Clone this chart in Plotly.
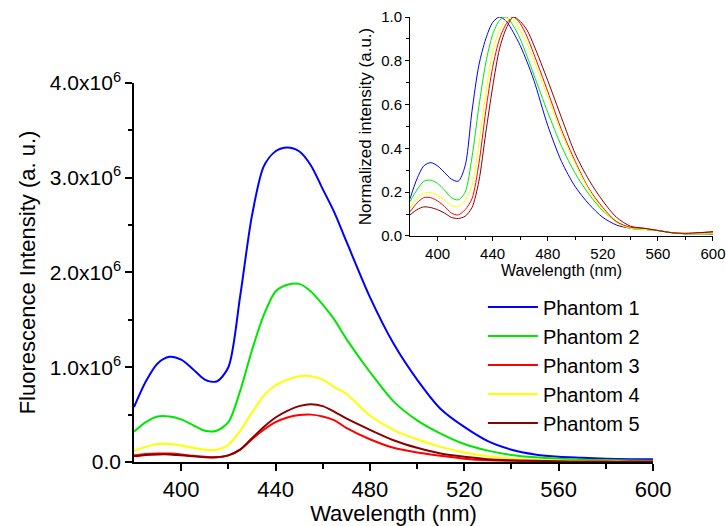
import plotly.graph_objects as go

# Emission wavelengths (nm)
wavelength = [380, 385, 390, 395, 400, 405, 410, 415, 420, 425, 430, 435, 440, 445,
              450, 455, 460, 465, 470, 480, 490, 500, 510, 520, 530, 540, 550, 560,
              570, 580, 590, 600]

# Fluorescence intensity, units of 1e6 a.u.
phantom1 = [0.58, 0.85, 1.04, 1.11, 1.08, 0.98, 0.87, 0.85, 1.00, 1.75, 2.60, 3.12, 3.28, 3.32,
            3.28, 3.13, 2.88, 2.63, 2.33, 1.74, 1.25, 0.87, 0.56, 0.37, 0.22, 0.13, 0.08, 0.055,
            0.045, 0.035, 0.03, 0.03]
phantom2 = [0.32, 0.42, 0.48, 0.48, 0.45, 0.39, 0.33, 0.33, 0.42, 0.75, 1.18, 1.55, 1.80, 1.87,
            1.88, 1.80, 1.66, 1.50, 1.30, 0.95, 0.64, 0.44, 0.30, 0.19, 0.12, 0.075, 0.05, 0.035,
            0.025, 0.02, 0.015, 0.012]
phantom3 = [0.07, 0.085, 0.09, 0.09, 0.08, 0.065, 0.055, 0.05, 0.07, 0.13, 0.24, 0.34, 0.42, 0.47,
            0.495, 0.50, 0.48, 0.44, 0.36, 0.24, 0.15, 0.10, 0.065, 0.035, 0.018, 0.012, 0.008, 0.006,
            0.004, 0.003, 0.003, 0.003]
phantom4 = [0.12, 0.16, 0.19, 0.19, 0.175, 0.15, 0.13, 0.13, 0.18, 0.33, 0.52, 0.70, 0.81, 0.87,
            0.905, 0.905, 0.87, 0.79, 0.72, 0.49, 0.34, 0.24, 0.16, 0.10, 0.06, 0.035, 0.02, 0.015,
            0.01, 0.008, 0.006, 0.005]
phantom5 = [0.06, 0.075, 0.08, 0.08, 0.07, 0.06, 0.05, 0.05, 0.07, 0.13, 0.25, 0.37, 0.47, 0.54,
            0.59, 0.61, 0.59, 0.53, 0.46, 0.34, 0.23, 0.15, 0.09, 0.055, 0.03, 0.018, 0.012, 0.008,
            0.005, 0.004, 0.004, 0.004]

# Normalized spectra (inset)
norm1 = [0.17, 0.26, 0.32, 0.335, 0.32, 0.29, 0.26, 0.25, 0.32, 0.57, 0.78, 0.90, 0.975, 1.0,
         0.98, 0.93, 0.87, 0.795, 0.71, 0.505, 0.34, 0.225, 0.145, 0.085, 0.05, 0.035, 0.03, 0.025,
         0.015, 0.01, 0.01, 0.008]
norm2 = [0.157, 0.21, 0.25, 0.255, 0.24, 0.21, 0.175, 0.165, 0.20, 0.36, 0.59, 0.79, 0.92, 0.985,
         1.0, 0.96, 0.90, 0.82, 0.735, 0.565, 0.41, 0.285, 0.19, 0.115, 0.065, 0.035, 0.03, 0.025,
         0.015, 0.01, 0.01, 0.01]
norm3 = [0.11, 0.15, 0.175, 0.175, 0.16, 0.135, 0.105, 0.096, 0.12, 0.17, 0.33, 0.57, 0.77, 0.90,
         0.97, 1.0, 0.97, 0.91, 0.83, 0.66, 0.485, 0.34, 0.215, 0.13, 0.065, 0.04, 0.035, 0.025,
         0.015, 0.012, 0.015, 0.018]
norm4 = [0.126, 0.17, 0.195, 0.198, 0.185, 0.165, 0.14, 0.134, 0.16, 0.23, 0.42, 0.65, 0.84, 0.94,
         0.99, 0.99, 0.94, 0.88, 0.80, 0.635, 0.47, 0.33, 0.21, 0.12, 0.06, 0.035, 0.03, 0.025,
         0.015, 0.012, 0.01, 0.01]
norm5 = [0.096, 0.12, 0.133, 0.13, 0.12, 0.105, 0.085, 0.08, 0.09, 0.13, 0.25, 0.47, 0.68, 0.855,
         0.95, 1.0, 0.98, 0.94, 0.87, 0.71, 0.54, 0.375, 0.255, 0.16, 0.085, 0.045, 0.035, 0.025,
         0.015, 0.012, 0.015, 0.02]

names = ["Phantom 1", "Phantom 2", "Phantom 3", "Phantom 4", "Phantom 5"]
colors = ["#0000FF", "#00E600", "#FF0000", "#FFFF00", "#8B0000"]
intensity = [phantom1, phantom2, phantom3, phantom4, phantom5]
normalized = [norm1, norm2, norm3, norm4, norm5]

y_ticks = [0, 1, 2, 3, 4]
y_ticktext = ["0.0", "1.0x10<sup>6</sup>", "2.0x10<sup>6</sup>", "3.0x10<sup>6</sup>", "4.0x10<sup>6</sup>"]
x_ticks = [400, 440, 480, 520, 560, 600]
x_minor = [420, 460, 500, 540, 580]
inset_y_ticks = [0.0, 0.2, 0.4, 0.6, 0.8, 1.0]
inset_y_minor = [0.1, 0.3, 0.5, 0.7, 0.9]

FONT = "Arial, Liberation Sans, sans-serif"

fig = go.Figure()

for name, col, vals in zip(names, colors, intensity):
    fig.add_trace(go.Scatter(
        x=wavelength, y=[v * 1e6 for v in vals], name=name, mode="lines",
        line=dict(color=col, width=2, shape="spline", smoothing=0.8),
        xaxis="x", yaxis="y"))

for name, col, vals in zip(names, colors, normalized):
    fig.add_trace(go.Scatter(
        x=wavelength, y=vals, name=name, mode="lines", showlegend=False,
        line=dict(color=col, width=1, shape="spline", smoothing=0.8),
        xaxis="x2", yaxis="y2"))

axis_common = dict(showline=True, linecolor="black", showgrid=False, zeroline=False,
                   ticks="outside", tickcolor="black", mirror=False, automargin=False)

fig.update_layout(
    template="none",
    width=726, height=526,
    margin=dict(l=134, r=13, t=17, b=64),
    paper_bgcolor="white", plot_bgcolor="rgba(0,0,0,0)",
    font=dict(family=FONT, color="black"),
    xaxis=dict(**axis_common, domain=[0, 0.8964], range=[380, 600],
               tickvals=x_ticks, ticklen=7, tickwidth=1.5, linewidth=1.5,
               tickfont=dict(size=22),
               minor=dict(tickvals=x_minor, ticks="outside", ticklen=5,
                          tickcolor="black", tickwidth=1.5),
               title=dict(text="Wavelength (nm)", font=dict(size=22), standoff=4),
               anchor="y"),
    yaxis=dict(**axis_common, domain=[0, 0.8517], range=[0, 4e6],
               tickvals=[v * 1e6 for v in y_ticks], ticktext=y_ticktext,
               ticklen=7, tickwidth=1.5, linewidth=1.5, tickfont=dict(size=21),
               minor=dict(tickvals=[0.5e6, 1.5e6, 2.5e6, 3.5e6], ticks="outside", ticklen=4,
                          tickcolor="black", tickwidth=1.5),
               title=dict(text="Fluorescence Intensity (a. u.)", font=dict(size=22), standoff=8),
               anchor="x"),
    xaxis2=dict(**axis_common, domain=[0.4767, 1.0], range=[380, 600],
                tickvals=x_ticks, ticklen=4, tickwidth=1, linewidth=1,
                tickfont=dict(size=15),
                minor=dict(tickvals=x_minor, ticks="outside", ticklen=3,
                           tickcolor="black", tickwidth=1),
                title=dict(text="Wavelength (nm)", font=dict(size=16), standoff=0),
                anchor="y2"),
    yaxis2=dict(**axis_common, domain=[0.5079, 1.0], range=[0, 1.0],
                tickvals=inset_y_ticks, tickformat=".1f", ticklen=4, tickwidth=1, linewidth=1,
                tickfont=dict(size=15),
                minor=dict(tickvals=inset_y_minor, ticks="outside", ticklen=3,
                           tickcolor="black", tickwidth=1),
                title=dict(text="Normalized intensity (a.u.)", font=dict(size=17), standoff=5),
                anchor="x2"),
    legend=dict(x=0.6026, y=0.392, xanchor="left", yanchor="top",
                font=dict(size=20), bgcolor="rgba(0,0,0,0)", borderwidth=0,
                itemwidth=50, tracegroupgap=0),
)

fig.write_html("out.html")
